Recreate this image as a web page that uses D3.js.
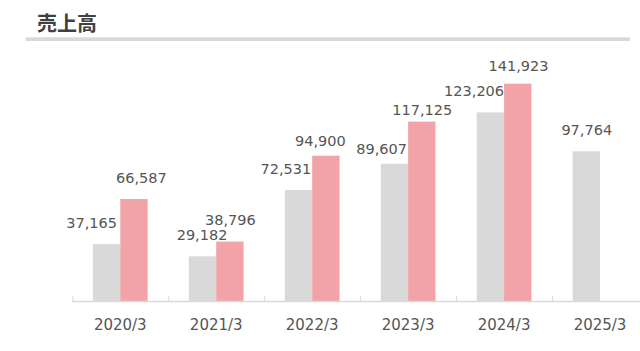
<!DOCTYPE html>
<html>
<head>
<meta charset="utf-8">
<script src="https://cdn.jsdelivr.net/npm/d3@7"></script>
<style>
  html, body { margin: 0; padding: 0; background: #fff; }
  svg { display: block; }
</style>
</head>
<body>
<svg id="chart" width="640" height="351"></svg>
<script>
// ---- data ----
const title = "売上高";
const categories = ["2020/3", "2021/3", "2022/3", "2023/3", "2024/3", "2025/3"];
const seriesGray = [37165, 29182, 72531, 89607, 123206, 97764];
const seriesPink = [66587, 38796, 94900, 117125, 141923, null];

// ---- label nudges (manual placements in the original) ----
const grayLabelNudge = [[-15, 0], [-0.5, 0], [-12.6, 0], [-12.8, 6.7], [-16.3, 0], [0.4, 0]];
const pinkLabelNudge = [[7.5, 0], [0.5, -1], [-5.5, 6.7], [0.5, 9.3], [0.7, 3.4], [0, 0]];

const W = 640, H = 351;
const svg = d3.select("#chart");
const fmt = d3.format(",");

// title
svg.append("text")
  .attr("x", 37).attr("y", 31)
  .attr("font-family", "'Noto Sans CJK JP', sans-serif")
  .attr("font-weight", "bold")
  .attr("font-size", 20)
  .attr("fill", "#404040")
  .text(title);
svg.append("rect")
  .attr("x", 25.7).attr("y", 37.3)
  .attr("width", 630 - 25.7).attr("height", 3.7)
  .attr("fill", "#d9d9d9");

// scales
const x = d3.scaleBand().domain(categories).range([72.3, 648]).padding(0);
const y = d3.scaleLinear().domain([0, 160000]).range([301, 56]);
const bw = x.bandwidth() * 0.285;

const g = svg.append("g");

function barX(cat, k) { return x(cat) + x.bandwidth() / 2 - bw + k * bw; }

// gray bars
g.selectAll("rect.gray").data(categories.map((c, i) => ({ c, v: seriesGray[i], i })).filter(d => d.v != null))
  .join("rect").attr("class", "gray")
  .attr("x", d => barX(d.c, 0)).attr("width", bw)
  .attr("y", d => y(d.v)).attr("height", d => y(0) - y(d.v))
  .attr("fill", "#d9d9d9");

// pink bars
g.selectAll("rect.pink").data(categories.map((c, i) => ({ c, v: seriesPink[i], i })).filter(d => d.v != null))
  .join("rect").attr("class", "pink")
  .attr("x", d => barX(d.c, 1)).attr("width", bw)
  .attr("y", d => y(d.v)).attr("height", d => y(0) - y(d.v))
  .attr("fill", "#f2a3a7");

// value labels
const labelFont = "'DejaVu Sans', Verdana, sans-serif";
function addLabels(series, k, nudge, cls) {
  g.selectAll("text." + cls).data(categories.map((c, i) => ({ c, v: series[i], i })).filter(d => d.v != null))
    .join("text").attr("class", cls)
    .attr("x", d => barX(d.c, k) + bw / 2 + nudge[d.i][0])
    .attr("y", d => y(d.v) - 16 + nudge[d.i][1])
    .attr("text-anchor", "middle")
    .attr("font-family", labelFont)
    .attr("font-size", 14.5)
    .attr("fill", "#555555")
    .text(d => fmt(d.v));
}
addLabels(seriesGray, 0, grayLabelNudge, "lg");
addLabels(seriesPink, 1, pinkLabelNudge, "lp");

// axis baseline and boundary ticks
const y0 = y(0) + 0.5;
svg.append("line")
  .attr("x1", x.range()[0]).attr("x2", W)
  .attr("y1", y0).attr("y2", y0)
  .attr("stroke", "#d9d9d9").attr("stroke-width", 1.5);
svg.selectAll("line.tick").data(categories)
  .join("line").attr("class", "tick")
  .attr("x1", d => x(d) + 0.5).attr("x2", d => x(d) + 0.5)
  .attr("y1", y0 - 6).attr("y2", y0)
  .attr("stroke", "#d9d9d9").attr("stroke-width", 1);

// category labels
const axis = svg.append("g")
  .attr("transform", `translate(0,${y(0)})`)
  .call(d3.axisBottom(x).tickSize(0).tickPadding(18));
axis.select(".domain").remove();
axis.selectAll("text")
  .attr("font-family", labelFont)
  .attr("font-size", 15)
  .attr("fill", "#555555");
</script>
</body>
</html>
